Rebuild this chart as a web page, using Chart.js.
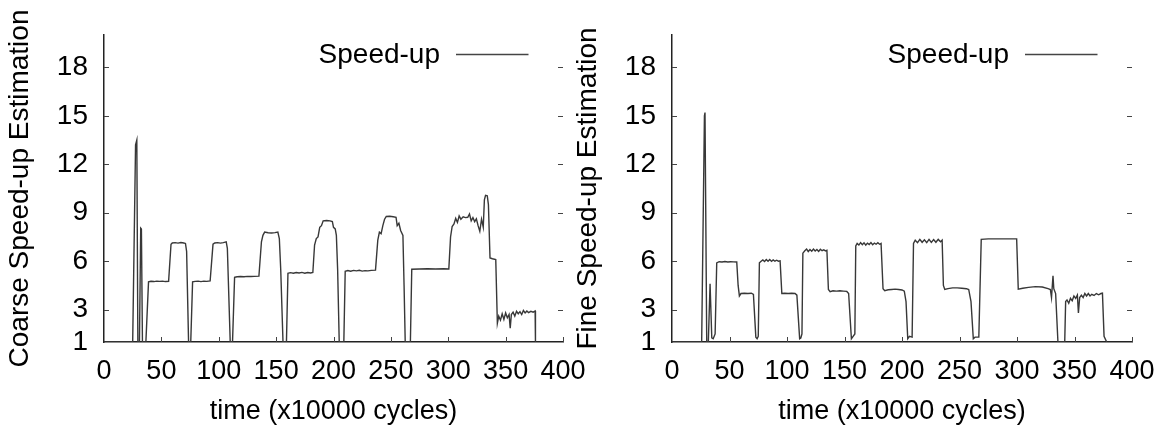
<!DOCTYPE html>
<html><head><meta charset="utf-8">
<script src="https://cdn.jsdelivr.net/npm/chart.js@4/dist/chart.umd.min.js"></script>
<style>
html,body{margin:0;padding:0;background:#fff;width:1158px;height:427px;overflow:hidden}
canvas{position:absolute;top:0}
#c1{left:0}
#c2{left:568px}
</style></head><body>
<canvas id="c1" width="590" height="427" style="width:590px;height:427px"></canvas>
<canvas id="c2" width="590" height="427" style="width:590px;height:427px"></canvas>
<script>
// ---- data (time in x10000 cycles, speed-up estimation) ----
const xTicks = [0, 50, 100, 150, 200, 250, 300, 350, 400];
const yTicks = [1, 3, 6, 9, 12, 15, 18];
const seriesLabel = 'Speed-up';
const xTitle = 'time (x10000 cycles)';
const coarseTitle = 'Coarse Speed-up Estimation';
const fineTitle = 'Fine Speed-up Estimation';

const coarseSpeedup = [
[0,1],[25,1],[27.5,13.2],[28.6,13.5],[29.5,1],[30.9,1],[32,8.05],[32.6,8.0],[33.5,1],[36.5,1],
[38.8,4.72],[41,4.76],[43.5,4.74],[46,4.77],[48.5,4.75],[51,4.77],[53.5,4.74],[56.3,4.76],
[58.4,7.05],[59.5,7.13],[62,7.15],[64.5,7.12],[67,7.16],[69.5,7.13],[71,7.1],[72,6.6],[73.7,1],[75.6,1],
[77.2,4.72],[79.5,4.75],[82,4.77],[84.5,4.74],[87,4.77],[89.5,4.75],[92.5,4.78],
[95,7.05],[96.5,7.13],[99,7.15],[101.5,7.12],[104,7.15],[106.5,7.2],[107.5,6.8],[110,1],[112,1],
[113.8,5.0],[116,5.04],[119,5.05],[122,5.04],[125,5.06],[128,5.05],[131,5.06],[135,5.08],
[137.2,7.2],[138.5,7.6],[140,7.8],[143,7.76],[146,7.75],[149,7.77],[151.5,7.8],[152.8,7.4],[154,5.5],[156,1],[159,1],
[160.3,5.25],[162.5,5.29],[165,5.26],[167.5,5.3],[170,5.27],[172.5,5.31],[175,5.26],[177.5,5.3],[180,5.27],[182,5.3],
[183.5,7.0],[185,7.4],[186.5,7.5],[188,8.1],[189.5,8.2],[191,8.5],[194,8.52],[197,8.5],[199,8.45],[200,8.1],[201.5,8.0],[202.5,7.6],[203.6,5.5],[205,1],[209,1],
[210.2,5.38],[212.5,5.42],[215,5.38],[217.5,5.43],[220,5.4],[222.5,5.44],[225,5.39],[227.5,5.42],[230,5.4],[233,5.43],[236.6,5.45],
[238.6,7.3],[240,7.8],[241.5,7.7],[243,8.2],[244.5,8.6],[246,8.77],[249,8.78],[252,8.75],[254.5,8.72],[255.5,8.2],[257,8.35],[258.5,7.9],[260.5,7.6],[261.5,4.5],[262.5,1],[267,1],
[268.2,5.5],[275,5.52],[282,5.53],[289,5.52],[296,5.53],[300.5,5.52],
[302,7.5],[303.4,8.15],[305,8.3],[306.5,8.65],[308,8.4],[309.5,8.8],[311,8.6],[313,8.75],[315,8.7],[317,8.72],[318.5,8.92],[320,8.5],[321.5,8.7],[323,8.45],[324.5,8.62],[326,8.2],[327.5,7.85],[329,8.6],[330.5,8.1],
[331.5,9.8],[332.5,10.08],[334,10.05],[335,9.5],[336.4,6.2],[338.5,6.15],[341.4,6.1],
[342.8,2.16],[344,2.6],[345.5,2.35],[347,2.75],[348.5,2.4],[350,2.8],[351.5,2.5],[353,2.7],[354,1.85],[355,2.7],[356.5,2.85],[358,2.6],[359.5,2.9],[361,2.75],[362.5,2.88],[364,2.7],[365.5,2.95],[367,2.8],[368.5,2.92],[370,2.82],[372,2.9],[374,2.85],[375.7,2.92],[376,1]
];

const fineSpeedup = [
[0,1],[25.8,1],[28.2,15.0],[28.7,15.2],[30.2,1],[31.6,1],[33.1,4.6],[34.6,1.25],[35.8,1.2],[37.5,1.5],
[38.9,5.9],[41,5.97],[43.5,5.95],[46,5.98],[48.5,5.95],[51,5.97],[53.5,5.96],[56.3,5.95],[57.5,4.5],
[58.6,3.85],[60,4.0],[63,4.02],[66,4.0],[69,4.02],[70.8,3.95],[72.9,1.3],[74,1.2],[75,1.35],
[76,5.9],[77.5,6.0],[79,6.08],[80.5,5.98],[82,6.1],[83.5,6.0],[85,6.1],[86.5,5.99],[88,6.08],[89.5,6.0],[91,6.06],[92.5,6.0],[94,6.02],
[95.5,4.0],[98,4.02],[101,4.0],[104,4.02],[107,4.0],[108.6,3.9],[111,1.2],[112,1.25],[113,1.5],
[113.8,6.5],[115.5,6.65],[117,6.75],[118.5,6.6],[120,6.72],[121.5,6.62],[123,6.75],[124.5,6.63],[126,6.72],[127.5,6.6],[129,6.74],[130.5,6.65],[132,6.7],[133.5,6.64],[134.7,6.68],
[136,4.25],[137.5,4.12],[140,4.17],[143,4.15],[146,4.17],[149,4.15],[152,4.13],[153.6,4.0],[156,1.2],[157.5,1.35],[159,1.5],
[159.8,6.95],[161,7.1],[162.5,7.0],[164,7.15],[165.5,7.02],[167,7.14],[168.5,7.0],[170,7.12],[171.5,7.03],[173,7.15],[174.5,7.02],[176,7.12],[177.5,7.05],[179,7.14],[180.5,7.05],[181.8,7.1],
[183.5,4.3],[185,4.18],[188,4.23],[191,4.25],[194,4.27],[197,4.25],[200,4.22],[202,4.15],[203.5,3.5],[205,1.2],[206.5,1.35],[208.8,1.3],
[210,7.1],[211.5,7.3],[213.5,7.15],[215.5,7.35],[217.5,7.17],[219.5,7.33],[221.5,7.15],[223.5,7.35],[225.5,7.16],[227.5,7.34],[229.5,7.17],[231.5,7.35],[233.5,7.2],[234.9,7.3],
[236,4.5],[237.2,4.25],[240,4.3],[244,4.35],[248,4.35],[252,4.33],[256,4.3],[258,4.25],[260,3.5],[262,1.2],[263.5,1.3],[266.8,1.3],
[268.9,7.35],[275,7.38],[282,7.38],[290,7.38],[299.7,7.38],
[301.1,4.27],[305,4.33],[310,4.38],[316,4.43],[322,4.4],[327,4.3],[329,4.25],[330,3.75],[331.3,5.1],[332,4.3],[333.6,4.0],[335.6,1],[341.5,1],
[342.3,3.5],[343.5,3.6],[345,3.4],[346.5,3.7],[348,3.55],[349.5,3.85],[351,3.7],[352.5,3.9],[353.4,2.8],[354.5,3.75],[356,3.9],[357.5,3.75],[359,4.0],[360.5,3.85],[362,4.0],[363.5,3.85],[365,3.95],[367,3.88],[369,4.0],[371,3.92],[373,4.0],[374.3,4.02],[375.7,1.35],[378,1]
];

// ---- styling ----
const FONT = '"Liberation Sans", Arial, Helvetica, sans-serif';
const FS = 27;
const FS_BIG = 28;
Chart.defaults.font.family = FONT;
Chart.defaults.color = '#000';

const tickMarks = {
  id: 'tickMarks',
  afterDraw(chart) {
    const {ctx, chartArea: a, scales: {x, y}} = chart;
    ctx.save();
    ctx.strokeStyle = '#444';
    ctx.lineWidth = 1;
    ctx.beginPath();
    yTicks.forEach(v => {
      if (v <= y.min) return;
      const py = Math.round(y.getPixelForValue(v)) + 0.5;
      ctx.moveTo(a.left, py); ctx.lineTo(a.left + 5, py);
      ctx.moveTo(a.right - 5, py); ctx.lineTo(a.right, py);
    });
    xTicks.forEach(v => {
      if (v <= x.min) return;
      const px = Math.round(x.getPixelForValue(v)) + 0.5;
      ctx.moveTo(px, a.bottom); ctx.lineTo(px, a.bottom - 5);
    });
    ctx.stroke();
    ctx.restore();
  }
};

const keyPlugin = {
  id: 'keyPlugin',
  afterDraw(chart) {
    const {ctx, chartArea: a} = chart;
    const lineEnd = a.right - 34.5;
    const lineStart = lineEnd - 72.5;
    ctx.save();
    ctx.font = FS_BIG + 'px ' + FONT;
    ctx.fillStyle = '#000';
    ctx.textAlign = 'right';
    ctx.textBaseline = 'middle';
    ctx.fillText(chart.data.datasets[0].label, lineStart - 16, 55);
    ctx.strokeStyle = '#444';
    ctx.lineWidth = 1.3;
    ctx.beginPath();
    ctx.moveTo(lineStart, 54.5);
    ctx.lineTo(lineEnd, 54.5);
    ctx.stroke();
    ctx.restore();
  }
};

function makeChart(id, points, yTitle, rightPad) {
  return new Chart(document.getElementById(id), {
    type: 'line',
    data: {
      datasets: [{
        label: seriesLabel,
        data: points.map(p => ({x: p[0], y: p[1]})),
        borderColor: '#383838',
        borderWidth: 1.4,
        pointRadius: 0,
        tension: 0,
        fill: false
      }]
    },
    options: {
      responsive: false,
      animation: false,
      events: [],
      layout: {padding: {left: 0, right: rightPad, top: 35, bottom: 0}},
      plugins: {legend: {display: false}, tooltip: {enabled: false}},
      scales: {
        x: {
          type: 'linear', min: 0, max: 400,
          afterBuildTicks: s => { s.ticks = xTicks.map(v => ({value: v})); },
          afterFit: s => { s.height = 85; s.paddingLeft = 0; s.paddingRight = 0; },
          grid: {display: false, drawTicks: false},
          border: {display: true, color: '#222', width: 1.5},
          ticks: {padding: 13, autoSkip: false, maxRotation: 0, color: '#000', font: {size: FS}},
          title: {display: true, text: xTitle, color: '#000', font: {size: FS, lineHeight: 1}, padding: {top: 0, bottom: 1.5}}
        },
        y: {
          type: 'linear', min: 1, max: 20,
          afterBuildTicks: s => { s.ticks = yTicks.map(v => ({value: v})); },
          afterFit: s => { s.width = 104; s.paddingTop = 0; s.paddingBottom = 0; },
          grid: {display: false, drawTicks: false},
          border: {display: true, color: '#222', width: 1.5},
          ticks: {padding: 16, autoSkip: false, color: '#000', font: {size: FS_BIG}},
          title: {display: true, text: yTitle, color: '#000', font: {size: FS_BIG, lineHeight: 1.2}, padding: {top: 3, bottom: 0}}
        }
      }
    },
    plugins: [tickMarks, keyPlugin]
  });
}

makeChart('c1', coarseSpeedup, coarseTitle, 27);
makeChart('c2', fineSpeedup, fineTitle, 26);
</script>
</body></html>
